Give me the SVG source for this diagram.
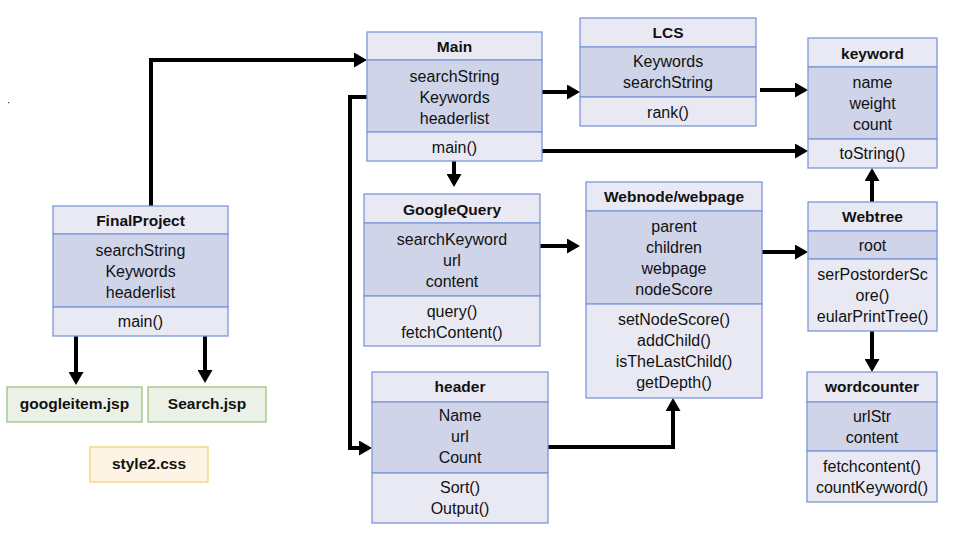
<svg xmlns="http://www.w3.org/2000/svg" width="960" height="540" viewBox="0 0 960 540">
<style>
.hd{fill:#E9E9F4;stroke:#7E97D8;stroke-width:1.3}
.at{fill:#CFD4E9;stroke:#7E97D8;stroke-width:1.3}
.t{font-family:"Liberation Sans",Arial,sans-serif;font-size:16px;fill:#111;text-anchor:middle}
.b{font-weight:bold;font-size:15.5px}
.gr{fill:#EBF1E6;stroke:#9CC47F;stroke-width:1.3}
.ye{fill:#FDF4E5;stroke:#F6D36C;stroke-width:1.3}
.c{fill:none;stroke:#000;stroke-width:4;stroke-linejoin:miter;marker-end:url(#ah)}
</style>
<defs>
<marker id="ah" markerUnits="userSpaceOnUse" markerWidth="13" markerHeight="15" refX="0" refY="7.5" orient="auto">
<path d="M0,0 L13,7.5 L0,15 z" fill="#000"/>
</marker>
</defs>
<rect width="960" height="540" fill="#fff"/>
<rect x="8" y="102" width="1.2" height="1.2" fill="#444"/>
<g id="connectors">
<path class="c" d="M151,206 V60 H354"/>
<path class="c" d="M367,97 H350 V448 H359"/>
<path class="c" d="M542,92 H567"/>
<path class="c" d="M542,151 H795"/>
<path class="c" d="M454,161 V174"/>
<path class="c" d="M760,90 H795"/>
<path class="c" d="M540,246 H567"/>
<path class="c" d="M762,252 H795"/>
<path class="c" d="M872,202 V181"/>
<path class="c" d="M872,331 V359"/>
<path class="c" d="M548,447 H673 V411"/>
<path class="c" d="M76,336 V372"/>
<path class="c" d="M205,336 V370"/>
</g>
<g id="FinalProject">
<rect class="hd" x="53" y="206" width="175" height="28"/>
<rect class="at" x="53" y="234" width="175" height="73"/>
<rect class="hd" x="53" y="307" width="175" height="29"/>
<text class="t b" x="140.5" y="226">FinalProject</text>
<text class="t" x="140.5" y="256">searchString</text>
<text class="t" x="140.5" y="277">Keywords</text>
<text class="t" x="140.5" y="298">headerlist</text>
<text class="t" x="140.5" y="327">main()</text>
</g>
<g id="googleitem">
<rect class="gr" x="7" y="387" width="135" height="35"/>
<text class="t b" x="74.5" y="409">googleitem.jsp</text>
</g>
<g id="search">
<rect class="gr" x="148" y="387" width="118" height="35"/>
<text class="t b" x="207" y="409">Search.jsp</text>
</g>
<g id="style2">
<rect class="ye" x="90" y="447" width="118" height="35"/>
<text class="t b" x="149" y="469">style2.css</text>
</g>
<g id="Main">
<rect class="hd" x="367" y="32" width="175" height="28"/>
<rect class="at" x="367" y="60" width="175" height="72"/>
<rect class="hd" x="367" y="132" width="175" height="29"/>
<text class="t b" x="454.5" y="52">Main</text>
<text class="t" x="454.5" y="82">searchString</text>
<text class="t" x="454.5" y="103">Keywords</text>
<text class="t" x="454.5" y="124">headerlist</text>
<text class="t" x="454.5" y="153">main()</text>
</g>
<g id="LCS">
<rect class="hd" x="580" y="18" width="176" height="29"/>
<rect class="at" x="580" y="47" width="176" height="50"/>
<rect class="hd" x="580" y="97" width="176" height="29"/>
<text class="t b" x="668" y="38">LCS</text>
<text class="t" x="668" y="67">Keywords</text>
<text class="t" x="668" y="88">searchString</text>
<text class="t" x="668" y="118">rank()</text>
</g>
<g id="keyword">
<rect class="hd" x="808" y="38" width="129" height="29"/>
<rect class="at" x="808" y="67" width="129" height="72"/>
<rect class="hd" x="808" y="139" width="129" height="29"/>
<text class="t b" x="872.5" y="59">keyword</text>
<text class="t" x="872.5" y="88">name</text>
<text class="t" x="872.5" y="109">weight</text>
<text class="t" x="872.5" y="130">count</text>
<text class="t" x="872.5" y="159">toString()</text>
</g>
<g id="GoogleQuery">
<rect class="hd" x="364" y="194" width="176" height="29"/>
<rect class="at" x="364" y="223" width="176" height="73"/>
<rect class="hd" x="364" y="296" width="176" height="50"/>
<text class="t b" x="452" y="215">GoogleQuery</text>
<text class="t" x="452" y="245">searchKeyword</text>
<text class="t" x="452" y="266">url</text>
<text class="t" x="452" y="287">content</text>
<text class="t" x="452" y="317">query()</text>
<text class="t" x="452" y="338">fetchContent()</text>
</g>
<g id="Webnode">
<rect class="hd" x="586" y="182" width="176" height="29"/>
<rect class="at" x="586" y="211" width="176" height="93"/>
<rect class="hd" x="586" y="304" width="176" height="94"/>
<text class="t b" x="674" y="202">Webnode/webpage</text>
<text class="t" x="674" y="232">parent</text>
<text class="t" x="674" y="253">children</text>
<text class="t" x="674" y="274">webpage</text>
<text class="t" x="674" y="295">nodeScore</text>
<text class="t" x="674" y="325">setNodeScore()</text>
<text class="t" x="674" y="346">addChild()</text>
<text class="t" x="674" y="367">isTheLastChild()</text>
<text class="t" x="674" y="388">getDepth()</text>
</g>
<g id="Webtree">
<rect class="hd" x="808" y="202" width="129" height="29"/>
<rect class="at" x="808" y="231" width="129" height="28"/>
<rect class="hd" x="808" y="259" width="129" height="72"/>
<text class="t b" x="872.5" y="222">Webtree</text>
<text class="t" x="872.5" y="251">root</text>
<text class="t" x="872.5" y="280">serPostorderSc</text>
<text class="t" x="872.5" y="301">ore()</text>
<text class="t" x="872.5" y="322">eularPrintTree()</text>
</g>
<g id="wordcounter">
<rect class="hd" x="807" y="372" width="130" height="30"/>
<rect class="at" x="807" y="402" width="130" height="49"/>
<rect class="hd" x="807" y="451" width="130" height="51"/>
<text class="t b" x="872" y="392">wordcounter</text>
<text class="t" x="872" y="422">urlStr</text>
<text class="t" x="872" y="443">content</text>
<text class="t" x="872" y="472">fetchcontent()</text>
<text class="t" x="872" y="493">countKeyword()</text>
</g>
<g id="header">
<rect class="hd" x="372" y="372" width="176" height="30"/>
<rect class="at" x="372" y="402" width="176" height="71"/>
<rect class="hd" x="372" y="473" width="176" height="50"/>
<text class="t b" x="460" y="392">header</text>
<text class="t" x="460" y="421">Name</text>
<text class="t" x="460" y="442">url</text>
<text class="t" x="460" y="463">Count</text>
<text class="t" x="460" y="493">Sort()</text>
<text class="t" x="460" y="514">Output()</text>
</g>
</svg>
